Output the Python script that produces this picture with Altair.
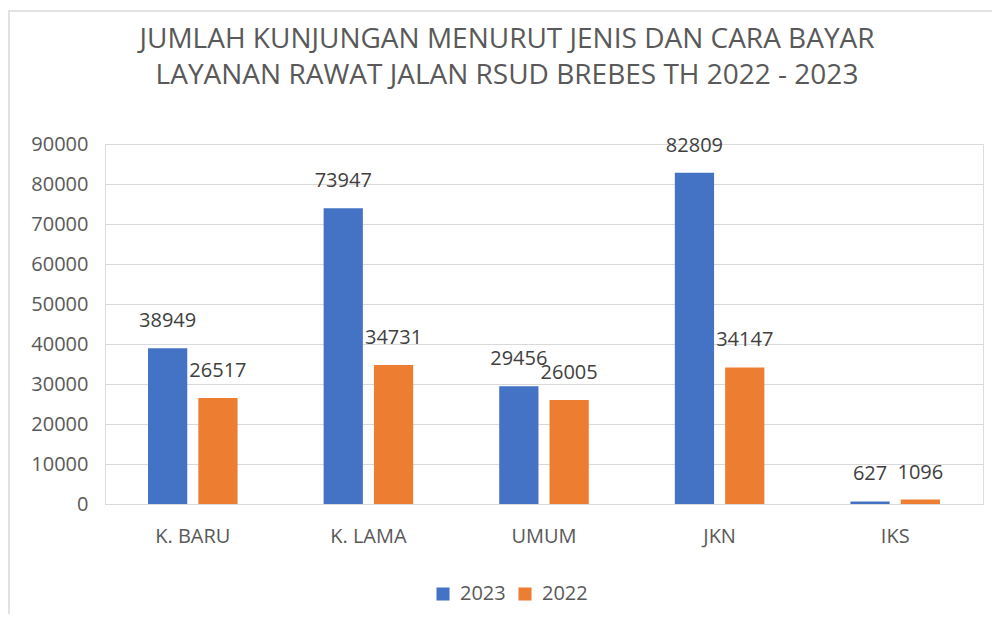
import altair as alt
import pandas as pd

categories = ["K. BARU", "K. LAMA", "UMUM", "JKN", "IKS"]
years = ["2023", "2022"]
values_2023 = [38949, 73947, 29456, 82809, 627]
values_2022 = [26517, 34731, 26005, 34147, 1096]
y_ticks = [0, 10000, 20000, 30000, 40000, 50000, 60000, 70000, 80000, 90000]
colors = ["#4472C4", "#ED7D31"]

rows = []
for c, a, b in zip(categories, values_2023, values_2022):
    rows.append({"cat": c, "year": "2023", "val": a})
    rows.append({"cat": c, "year": "2022", "val": b})
df = pd.DataFrame(rows)

FONT = "Open Sans"
x = alt.X("cat:N", sort=categories, title=None,
          scale=alt.Scale(paddingInner=0.49, paddingOuter=0.245),
          axis=alt.Axis(labelAngle=0, ticks=False, domainColor="#D9D9D9",
                        labelColor="#595959", labelFontSize=20, labelPadding=22,
                        labelFont=FONT))
xo = alt.XOffset("year:N", sort=years, scale=alt.Scale(paddingInner=0.22, paddingOuter=0))
y = alt.Y("val:Q", title=None,
          scale=alt.Scale(domain=[0, 90000], nice=False),
          axis=alt.Axis(values=y_ticks, format="d", ticks=False, domain=False,
                        gridColor="#D9D9D9", labelColor="#595959", labelFontSize=20,
                        labelPadding=17, labelFont=FONT))

base = alt.Chart(df)
frame = alt.Chart(pd.DataFrame({"k": [0]})).mark_rect(
    fill=None, stroke="#D9D9D9", strokeWidth=1.5
).encode(x=alt.value(-96), x2=alt.value(900), y=alt.value(-133), y2=alt.value(490))

bars = base.mark_bar().encode(
    x=x, xOffset=xo, y=y,
    color=alt.Color("year:N", sort=years,
                    scale=alt.Scale(domain=years, range=colors),
                    legend=alt.Legend(title=None, orient="none", direction="horizontal",
                                      legendX=328, legendY=440, labelFontSize=20,
                                      labelColor="#595959", symbolType="square",
                                      symbolSize=170, symbolStrokeWidth=0,
                                      labelFont=FONT, columnPadding=9, labelOffset=7)),
)
labels = base.mark_text(dy=-27, fontSize=20, color="#404040", font=FONT).encode(
    x=x, xOffset=xo, y=y, text=alt.Text("val:Q", format="d")
)

chart = (frame + bars + labels).properties(
    width=878, height=360,
    autosize=alt.AutoSizeParams(type="none"),
    padding={"left": 97, "top": 136, "right": 9, "bottom": 110},
    title=alt.TitleParams(
        ["JUMLAH KUNJUNGAN MENURUT JENIS DAN CARA BAYAR",
         "LAYANAN RAWAT JALAN RSUD BREBES TH 2022 - 2023"],
        fontSize=28, font=FONT, fontWeight="normal", color="#595959",
        anchor="middle", dx=-37, offset=-80, lineHeight=36,
    ),
).configure_view(stroke=None).configure(background="white")

chart.save("out.html", embed_options={"renderer": "svg", "actions": False})
